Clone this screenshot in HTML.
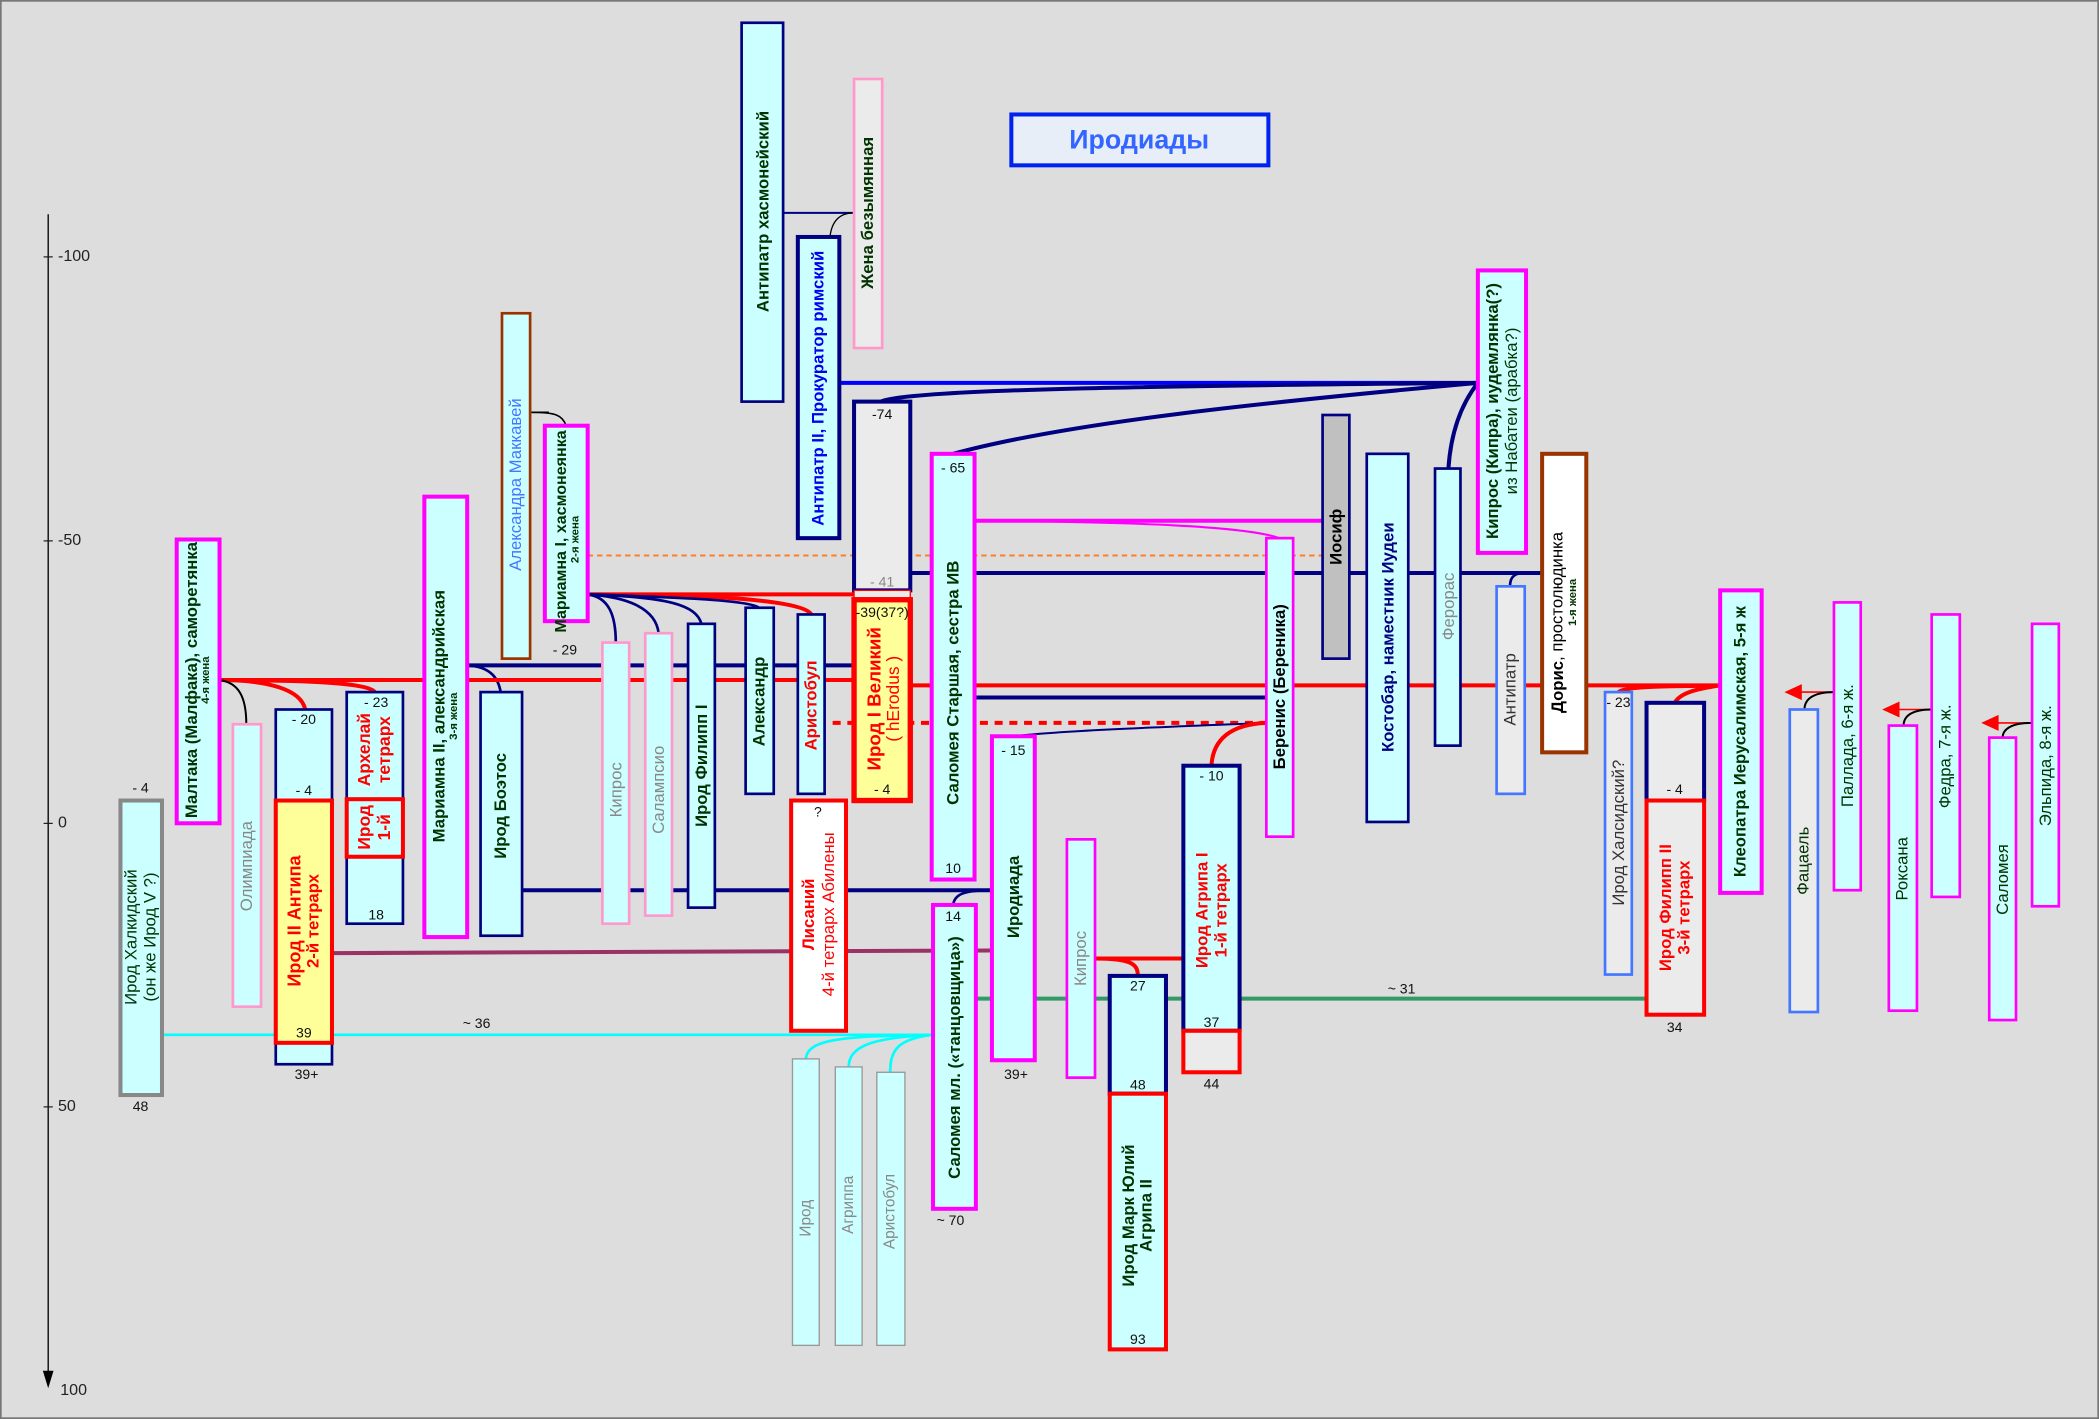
<!DOCTYPE html>
<html><head><meta charset="utf-8"><style>
html,body{margin:0;padding:0;background:#dddddd;}
svg{display:block;}
text{font-family:"Liberation Sans",sans-serif;}
.b{font-weight:bold;}
</style></head><body>
<svg width="2099" height="1419" viewBox="0 0 1568 1060" xmlns="http://www.w3.org/2000/svg">
<rect x="0.5" y="0.5" width="1567" height="1059" fill="#dddddd" stroke="#777" stroke-width="1.5"/>
<line x1="36" y1="160" x2="36" y2="1025" stroke="#000" stroke-width="1"/>
<polygon points="32,1024 40,1024 36,1037" fill="#000"/>
<g font-size="12" fill="#222">
<text x="32" y="195">-- -100</text>
<text x="32" y="407">--   -50</text>
<text x="32" y="618">--     0</text>
<text x="32" y="830">--    50</text>
<text x="45" y="1042">100</text>
</g>
<rect x="755.5" y="85.5" width="192" height="38" fill="#e8eef8" stroke="#0022ee" stroke-width="3"/>
<text x="851" y="111" font-size="20" class="b" fill="#3366ff" text-anchor="middle">Иродиады</text>

<g fill="none">
<line x1="585" y1="159" x2="638" y2="159" stroke="#000080" stroke-width="1.5"/>
<path d="M638,159 C625,159 621,168 620,177" stroke="#000" stroke-width="1"/>
<line x1="627" y1="286" x2="1104" y2="286" stroke="#0000ff" stroke-width="3"/>
<path d="M658,300 C680,290 900,288 1104,286" stroke="#000080" stroke-width="3"/>
<path d="M712,339 C800,315 950,300 1104,286" stroke="#000080" stroke-width="3"/>
<path d="M1082,350 C1084,320 1093,300 1104,286" stroke="#000080" stroke-width="3"/>
<line x1="397" y1="308" x2="410" y2="308" stroke="#000" stroke-width="1.2"/>
<path d="M397,308 C415,308 420,310 423,318" stroke="#000" stroke-width="1.2"/>
<line x1="439" y1="415" x2="988" y2="415" stroke="#ff7f27" stroke-width="1.5" stroke-dasharray="4,3"/>
<line x1="680" y1="428" x2="1152" y2="428" stroke="#000080" stroke-width="3"/>
<path d="M1128,438 C1128,430 1132,428 1140,428" stroke="#000080" stroke-width="2"/>
<line x1="728" y1="389" x2="988" y2="389" stroke="#ff00ff" stroke-width="3"/>
<path d="M728,389 C850,390 930,393 956,402" stroke="#ff00ff" stroke-width="1.5"/>
<line x1="439" y1="444" x2="638" y2="444" stroke="#ff0000" stroke-width="3"/>
<path d="M439,444 C500,444 600,446 606,459" stroke="#ff0000" stroke-width="3"/>
<path d="M439,444 C455,446 460,460 460,480" stroke="#000080" stroke-width="2"/>
<path d="M439,444 C470,446 490,455 492,473" stroke="#000080" stroke-width="2"/>
<path d="M439,444 C500,446 520,452 524,466" stroke="#000080" stroke-width="2"/>
<path d="M439,444 C500,446 560,448 567,454" stroke="#000080" stroke-width="2"/>
<line x1="349" y1="497" x2="638" y2="497" stroke="#000080" stroke-width="3"/>
<path d="M349,497 C365,498 372,505 374,517" stroke="#000080" stroke-width="2"/>
<line x1="164" y1="508" x2="638" y2="508" stroke="#ff0000" stroke-width="3"/>
<path d="M164,508 C200,508 225,515 228,530" stroke="#ff0000" stroke-width="3"/>
<path d="M164,508 C230,508 275,510 280,517" stroke="#ff0000" stroke-width="3"/>
<path d="M164,508 C178,510 184,520 184,541" stroke="#000" stroke-width="1.5"/>
<line x1="680" y1="512" x2="1285" y2="512" stroke="#ff0000" stroke-width="3"/>
<line x1="728" y1="521" x2="946" y2="521" stroke="#000080" stroke-width="3"/>
<line x1="622" y1="540" x2="946" y2="540" stroke="#ff0000" stroke-width="3" stroke-dasharray="6,5"/>
<path d="M757,550 C800,545 900,542 946,540" stroke="#000080" stroke-width="1.5"/>
<path d="M946,540 C920,541 906,552 905,572" stroke="#ff0000" stroke-width="3"/>
<path d="M1285,512 C1250,513 1215,512 1209,517" stroke="#ff0000" stroke-width="3"/>
<path d="M1285,512 C1265,515 1255,518 1251,525" stroke="#ff0000" stroke-width="3"/>
<line x1="390" y1="665" x2="741" y2="665" stroke="#000080" stroke-width="3"/>
<path d="M741,665 C720,665 713,668 712,676" stroke="#000080" stroke-width="2"/>
<line x1="248" y1="712" x2="741" y2="710" stroke="#993366" stroke-width="3"/>
<line x1="729" y1="746" x2="1230" y2="746" stroke="#339966" stroke-width="3"/>
<line x1="121" y1="773" x2="697" y2="773" stroke="#00ffff" stroke-width="2"/>
<path d="M697,773 C630,774 603,776 602,791" stroke="#00ffff" stroke-width="2"/>
<path d="M697,773 C650,775 634,782 634,797" stroke="#00ffff" stroke-width="2"/>
<path d="M697,773 C670,776 665,785 665,801" stroke="#00ffff" stroke-width="2"/>
<line x1="818" y1="716" x2="884" y2="716" stroke="#ff0000" stroke-width="3"/>
<path d="M818,716 C845,716 850,720 850,729" stroke="#ff0000" stroke-width="3"/>
<line x1="1345" y1="517" x2="1370" y2="517" stroke="#ff0000" stroke-width="1.2"/>
<polygon points="1333,517 1346,511 1346,523" fill="#ff0000"/>
<path d="M1370,517 C1355,517 1348,522 1348,530" stroke="#000" stroke-width="1.5"/>
<line x1="1418" y1="530" x2="1443" y2="530" stroke="#ff0000" stroke-width="1.2"/>
<polygon points="1406,530 1419,524 1419,536" fill="#ff0000"/>
<path d="M1443,530 C1428,530 1422,535 1422,542" stroke="#000" stroke-width="1.5"/>
<line x1="1492" y1="540" x2="1518" y2="540" stroke="#ff0000" stroke-width="1.2"/>
<polygon points="1480,540 1493,534 1493,546" fill="#ff0000"/>
<path d="M1518,540 C1502,540 1496,545 1496,551" stroke="#000" stroke-width="1.5"/>
</g>

<g>
<rect x="554" y="17" width="31" height="283" fill="#ccffff" stroke="#000080" stroke-width="2"/>
<rect x="638" y="59" width="21" height="201" fill="#ebebeb" stroke="#ff99cc" stroke-width="2"/>
<rect x="596" y="177" width="31" height="225" fill="#ccffff" stroke="#000080" stroke-width="3"/>
<rect x="638" y="300" width="42" height="141" fill="#ebebeb" stroke="#000080" stroke-width="3"/>
<rect x="638" y="441" width="42" height="7" fill="#ebebeb" stroke="#ff0000" stroke-width="1"/>
<rect x="638" y="448" width="42" height="150" fill="#ffff99" stroke="#ff0000" stroke-width="4"/>
<rect x="375" y="234" width="21" height="258" fill="#ccffff" stroke="#993300" stroke-width="2"/>
<rect x="407" y="318" width="32" height="146" fill="#ccffff" stroke="#ff00ff" stroke-width="3"/>
<rect x="317" y="371" width="32" height="329" fill="#ccffff" stroke="#ff00ff" stroke-width="3"/>
<rect x="132" y="403" width="32" height="212" fill="#ccffff" stroke="#ff00ff" stroke-width="3"/>
<rect x="174" y="541" width="21" height="211" fill="#ccffff" stroke="#ff99cc" stroke-width="2"/>
<rect x="90" y="598" width="31" height="220" fill="#ccffff" stroke="#888" stroke-width="3"/>
<rect x="206" y="530" width="42" height="265" fill="#ccffff" stroke="#000080" stroke-width="2"/>
<rect x="206" y="598" width="42" height="181" fill="#ffff99" stroke="#ff0000" stroke-width="3"/>
<rect x="259" y="517" width="42" height="173" fill="#ccffff" stroke="#000080" stroke-width="2"/>
<rect x="259" y="597" width="42" height="43" fill="none" stroke="#ff0000" stroke-width="3"/>
<rect x="359" y="517" width="31" height="182" fill="#ccffff" stroke="#000080" stroke-width="2"/>
<rect x="450" y="480" width="20" height="210" fill="#ccffff" stroke="#ff99cc" stroke-width="2"/>
<rect x="482" y="473" width="20" height="211" fill="#ccffff" stroke="#ff99cc" stroke-width="2"/>
<rect x="514" y="466" width="20" height="212" fill="#ccffff" stroke="#000080" stroke-width="2"/>
<rect x="557" y="454" width="21" height="139" fill="#ccffff" stroke="#000080" stroke-width="2"/>
<rect x="596" y="459" width="20" height="134" fill="#ccffff" stroke="#000080" stroke-width="2"/>
<rect x="591" y="598" width="41" height="172" fill="#ffffff" stroke="#ff0000" stroke-width="3"/>
<rect x="696" y="339" width="32" height="318" fill="#ccffff" stroke="#ff00ff" stroke-width="3"/>
<rect x="741" y="550" width="32" height="242" fill="#ccffff" stroke="#ff00ff" stroke-width="3"/>
<rect x="697" y="676" width="32" height="227" fill="#ccffff" stroke="#ff00ff" stroke-width="3"/>
<rect x="592" y="791" width="20" height="214" fill="#ccffff" stroke="#999" stroke-width="1"/>
<rect x="624" y="797" width="20" height="208" fill="#ccffff" stroke="#999" stroke-width="1"/>
<rect x="655" y="801" width="21" height="204" fill="#ccffff" stroke="#999" stroke-width="1"/>
<rect x="797" y="627" width="21" height="178" fill="#ccffff" stroke="#ff00ff" stroke-width="2"/>
<rect x="829" y="729" width="42" height="88" fill="#ccffff" stroke="#000080" stroke-width="3"/>
<rect x="829" y="817" width="42" height="191" fill="#ccffff" stroke="#ff0000" stroke-width="3"/>
<rect x="884" y="572" width="42" height="198" fill="#ccffff" stroke="#000080" stroke-width="3"/>
<rect x="884" y="770" width="42" height="31" fill="#ebebeb" stroke="#ff0000" stroke-width="3"/>
<rect x="946" y="402" width="20" height="223" fill="#ccffff" stroke="#ff00ff" stroke-width="2"/>
<rect x="988" y="310" width="20" height="182" fill="#c0c0c0" stroke="#000080" stroke-width="2"/>
<rect x="1021" y="339" width="31" height="275" fill="#ccffff" stroke="#000080" stroke-width="2"/>
<rect x="1072" y="350" width="19" height="207" fill="#ccffff" stroke="#000080" stroke-width="2"/>
<rect x="1104" y="202" width="36" height="211" fill="#ccffff" stroke="#ff00ff" stroke-width="3"/>
<rect x="1118" y="438" width="21" height="155" fill="#ebebeb" stroke="#4477ff" stroke-width="2"/>
<rect x="1152" y="339" width="33" height="223" fill="#ffffff" stroke="#993300" stroke-width="3"/>
<rect x="1199" y="517" width="20" height="211" fill="#ebebeb" stroke="#4477ff" stroke-width="2"/>
<rect x="1230" y="525" width="43" height="73" fill="#ebebeb" stroke="#000080" stroke-width="3"/>
<rect x="1230" y="598" width="43" height="160" fill="#ebebeb" stroke="#ff0000" stroke-width="3"/>
<rect x="1285" y="441" width="31" height="226" fill="#ccffff" stroke="#ff00ff" stroke-width="3"/>
<rect x="1337" y="530" width="21" height="226" fill="#ebebeb" stroke="#4477ff" stroke-width="2"/>
<rect x="1370" y="450" width="20" height="215" fill="#ccffff" stroke="#ff00ff" stroke-width="2"/>
<rect x="1411" y="542" width="21" height="213" fill="#ccffff" stroke="#ff00ff" stroke-width="2"/>
<rect x="1443" y="459" width="21" height="211" fill="#ccffff" stroke="#ff00ff" stroke-width="2"/>
<rect x="1486" y="551" width="20" height="211" fill="#ccffff" stroke="#ff00ff" stroke-width="2"/>
<rect x="1518" y="466" width="20" height="211" fill="#ccffff" stroke="#ff00ff" stroke-width="2"/>
</g>

<g font-size="12.5" text-anchor="middle" dominant-baseline="central">
<text transform="translate(570,158) rotate(-90)" class="b" fill="#003300">Антипатр хасмонейский</text>
<text transform="translate(648,159) rotate(-90)" class="b" fill="#003300">Жена безымянная</text>
<text transform="translate(611,290) rotate(-90)" class="b" fill="#0000ee">Антипатр II, Прокуратор римский</text>
<text transform="translate(653,522) rotate(-90)" class="b" fill="#ff0000" font-size="14">Ирод I Великий</text>
<text transform="translate(667,522) rotate(-90)" fill="#ff0000" font-size="13">( hErodus )</text>
<text transform="translate(385,362) rotate(-90)" fill="#4477ff">Александра Маккавей</text>
<text transform="translate(419,397) rotate(-90)" class="b" fill="#003300" font-size="12">Мариамна I, хасмонеянка</text>
<text transform="translate(430,403) rotate(-90)" class="b" fill="#003300" font-size="8.5">2-я жена</text>
<text transform="translate(328,535) rotate(-90)" class="b" fill="#003300">Мариамна II, александрийская</text>
<text transform="translate(339,535) rotate(-90)" class="b" fill="#003300" font-size="8.5">3-я жена</text>
<text transform="translate(143,508) rotate(-90)" class="b" fill="#003300">Малтака (Малфака), саморетянка</text>
<text transform="translate(154,508) rotate(-90)" class="b" fill="#003300" font-size="8.5">4-я жена</text>
<text transform="translate(184,647) rotate(-90)" fill="#888">Олимпиада</text>
<text transform="translate(98,700) rotate(-90)" fill="#003300">Ирод Халкидский</text>
<text transform="translate(112,700) rotate(-90)" fill="#003300">(он же Ирод V ?)</text>
<text transform="translate(220,688) rotate(-90)" class="b" fill="#ff0000" font-size="13.5">Ирод II Антипа</text>
<text transform="translate(234,688) rotate(-90)" class="b" fill="#ff0000">2-й тетрарх</text>
<text transform="translate(272,618) rotate(-90)" class="b" fill="#ff0000" font-size="13">Ирод</text>
<text transform="translate(272,560) rotate(-90)" class="b" fill="#ff0000" font-size="13">Архелай</text>
<text transform="translate(287,618) rotate(-90)" class="b" fill="#ff0000" font-size="13">1-й</text>
<text transform="translate(287,560) rotate(-90)" class="b" fill="#ff0000" font-size="13">тетрарх</text>
<text transform="translate(374,602) rotate(-90)" class="b" fill="#003300">Ирод Боэтос</text>
<text transform="translate(460,590) rotate(-90)" fill="#888">Кипрос</text>
<text transform="translate(492,590) rotate(-90)" fill="#888">Салампсио</text>
<text transform="translate(524,572) rotate(-90)" class="b" fill="#003300">Ирод Филипп I</text>
<text transform="translate(567,524) rotate(-90)" class="b" fill="#003300">Александр</text>
<text transform="translate(606,527) rotate(-90)" class="b" fill="#ff0000">Аристобул</text>
<text transform="translate(604,683) rotate(-90)" class="b" fill="#ff0000">Лисаний</text>
<text transform="translate(619,683) rotate(-90)" fill="#ff0000">4-й тетрарх Абилены</text>
<text transform="translate(712,510) rotate(-90)" class="b" fill="#003300">Саломея Старшая, сестра ИВ</text>
<text transform="translate(757,670) rotate(-90)" class="b" fill="#003300">Иродиада</text>
<text transform="translate(713,790) rotate(-90)" class="b" fill="#003300">Саломея мл. («танцовщица»)</text>
<text transform="translate(602,910) rotate(-90)" fill="#888" font-size="11.5">Ирод</text>
<text transform="translate(634,900) rotate(-90)" fill="#888" font-size="11.5">Агриппа</text>
<text transform="translate(665,905) rotate(-90)" fill="#888" font-size="11.5">Аристобул</text>
<text transform="translate(807,716) rotate(-90)" fill="#888">Кипрос</text>
<text transform="translate(843,908) rotate(-90)" class="b" fill="#003300">Ирод  Марк Юлий</text>
<text transform="translate(856,908) rotate(-90)" class="b" fill="#003300">Агрипа II</text>
<text transform="translate(898,680) rotate(-90)" class="b" fill="#ff0000">Ирод Агрипа I</text>
<text transform="translate(912,680) rotate(-90)" class="b" fill="#ff0000">1-й тетрарх</text>
<text transform="translate(956,513) rotate(-90)" class="b" fill="#000">Беренис (Береника)</text>
<text transform="translate(998,401) rotate(-90)" class="b" fill="#000">Иосиф</text>
<text transform="translate(1037,476) rotate(-90)" class="b" fill="#000080">Костобар, наместник Иудеи</text>
<text transform="translate(1082,453) rotate(-90)" fill="#888">Ферорас</text>
<text transform="translate(1115,307) rotate(-90)" class="b" fill="#003300">Кипрос (Кипра), иудемлянка(?)</text>
<text transform="translate(1129,307) rotate(-90)" fill="#003300">из Набатеи (арабка?)</text>
<text transform="translate(1128,515) rotate(-90)" fill="#333">Антипатр</text>
<text transform="translate(1163,465) rotate(-90)" fill="#000"><tspan class="b">Дорис</tspan>, простолюдинка</text>
<text transform="translate(1175,450) rotate(-90)" class="b" fill="#003300" font-size="8.5">1-я жена</text>
<text transform="translate(1209,622) rotate(-90)" fill="#333">Ирод Халсидский?</text>
<text transform="translate(1244,678) rotate(-90)" class="b" fill="#ff0000">Ирод Филипп II</text>
<text transform="translate(1258,678) rotate(-90)" class="b" fill="#ff0000">3-й тетрарх</text>
<text transform="translate(1300,554) rotate(-90)" class="b" fill="#003300">Клеопатра Иерусалимская, 5-я ж</text>
<text transform="translate(1347,643) rotate(-90)" fill="#003300">Фацаель</text>
<text transform="translate(1380,557) rotate(-90)" fill="#003300">Паллада, 6-я ж.</text>
<text transform="translate(1421,649) rotate(-90)" fill="#003300">Роксана</text>
<text transform="translate(1453,565) rotate(-90)" fill="#003300">Федра, 7-я ж.</text>
<text transform="translate(1496,657) rotate(-90)" fill="#003300">Саломея</text>
<text transform="translate(1528,572) rotate(-90)" fill="#003300">Эльпида, 8-я ж.</text>
</g>

<g font-size="10.5" fill="#111" text-anchor="middle">
<text x="659" y="313">-74</text>
<text x="659" y="438" fill="#888">- 41</text>
<text x="659" y="461">-39(37?)</text>
<text x="659" y="593">- 4</text>
<text x="422" y="489">- 29</text>
<text x="105" y="592">- 4</text>
<text x="105" y="830">48</text>
<text x="227" y="541">- 20</text>
<text x="227" y="594">- 4</text>
<text x="227" y="775">39</text>
<text x="229" y="806">39+</text>
<text x="281" y="528">- 23</text>
<text x="281" y="687">18</text>
<text x="611" y="610">?</text>
<text x="712" y="353">- 65</text>
<text x="712" y="652">10</text>
<text x="757" y="564">- 15</text>
<text x="759" y="806">39+</text>
<text x="712" y="688">14</text>
<text x="710" y="915">~ 70</text>
<text x="850" y="740">27</text>
<text x="850" y="814">48</text>
<text x="850" y="1004">93</text>
<text x="905" y="583">- 10</text>
<text x="905" y="767">37</text>
<text x="905" y="813">44</text>
<text x="1209" y="528">- 23</text>
<text x="1251" y="593">- 4</text>
<text x="1251" y="771">34</text>
<text x="356" y="768">~ 36</text>
<text x="1047" y="742">~ 31</text>
</g>
</svg>
</body></html>
